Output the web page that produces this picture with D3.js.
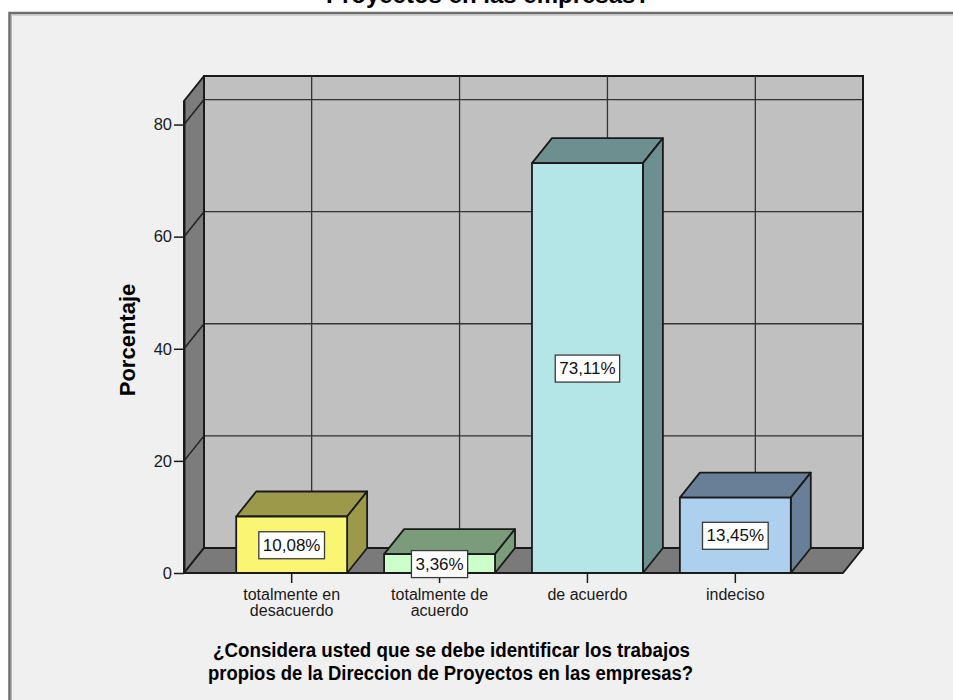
<!DOCTYPE html>
<html>
<head>
<meta charset="utf-8">
<script src="https://cdn.jsdelivr.net/npm/d3@7"></script>
<style>
  html, body { margin: 0; padding: 0; background: #ffffff; }
  svg { display: block; }
  text { font-family: "Liberation Sans", Arial, sans-serif; }
</style>
</head>
<body>
<svg id="chart" width="953" height="700"></svg>
<script>
// Survey responses (percentages)
const categories = ["totalmente en desacuerdo", "totalmente de acuerdo", "de acuerdo", "indeciso"];
const categoryLines = [["totalmente en", "desacuerdo"], ["totalmente de", "acuerdo"], ["de acuerdo"], ["indeciso"]];
const percentages = [10.08, 3.36, 73.11, 13.45];
const yTicks = [0, 20, 40, 60, 80];
const frontColors = ["#faf573", "#ccffcc", "#b4e6e8", "#acd0ee"];
const shadeColors = ["#9c9a4a", "#7a9c7a", "#6e8f8f", "#687f97"];

const chartTitle = "Proyectos en las empresas?";
const xTitleLines = ["¿Considera usted que se debe identificar los trabajos",
                     "propios de la Direccion de Proyectos en las empresas?"];
const yTitle = "Porcentaje";

const svg = d3.select("#chart");
const W = 953, H = 700;

// plot geometry (front plane) and 3D depth offset
const plotLeft = 184, plotRight = 843, plotBase = 573, plotTop = 101;
const dx = 20, dy = 25;

const x = d3.scaleBand().domain(categories).range([plotLeft, plotRight])
  .paddingInner(0.25).paddingOuter(0.353);
const y = d3.scaleLinear().domain([0, 84.2]).range([plotBase, plotTop]);

const locale = d3.formatLocale({decimal: ",", thousands: ".", grouping: [3], currency: ["", "€"]});
const fmt = locale.format(".2f");

// outer panel
svg.append("rect").attr("x", 0).attr("y", 0).attr("width", W).attr("height", H).attr("fill", "#ffffff");
svg.append("rect").attr("x", 9.5).attr("y", 13).attr("width", W + 20).attr("height", H + 20)
  .attr("fill", "#f0f0f0").attr("stroke", "#6e6e6e").attr("stroke-width", 2.5);
svg.append("rect").attr("x", 11.5).attr("y", 15).attr("width", W + 20).attr("height", H + 20)
  .attr("fill", "none").attr("stroke", "#b4b4b4").attr("stroke-width", 1);

// title (mostly above the visible area)
svg.append("text").attr("x", 488).attr("y", 3).attr("text-anchor", "middle")
  .attr("font-size", 24).attr("font-weight", "bold").attr("fill", "#000").text(chartTitle);

const yTopVal = y.domain()[1];

// back wall
svg.append("rect")
  .attr("x", plotLeft + dx).attr("y", y(yTopVal) - dy)
  .attr("width", plotRight - plotLeft).attr("height", plotBase - y(yTopVal))
  .attr("fill", "#c0c0c0").attr("stroke", "#1a1a1a").attr("stroke-width", 2);

// back-wall gridlines
const grid = svg.append("g").attr("stroke", "#333").attr("stroke-width", 1.3);
yTicks.filter(t => t > 0).forEach(t => {
  grid.append("line").attr("x1", plotLeft + dx).attr("x2", plotRight + dx)
    .attr("y1", y(t) - dy).attr("y2", y(t) - dy);
});
categories.forEach(c => {
  const cx = x(c) + x.bandwidth() / 2 + dx;
  grid.append("line").attr("x1", cx).attr("x2", cx)
    .attr("y1", y(yTopVal) - dy).attr("y2", plotBase - dy);
});

// left wall
svg.append("path")
  .attr("d", d3.line()([[plotLeft, y(yTopVal)], [plotLeft + dx, y(yTopVal) - dy], [plotLeft + dx, plotBase - dy], [plotLeft, plotBase]]) + "Z")
  .attr("fill", "#7c7c7c").attr("stroke", "#1a1a1a").attr("stroke-width", 2).attr("stroke-linejoin", "round");
yTicks.filter(t => t > 0).forEach(t => {
  svg.append("line").attr("x1", plotLeft).attr("y1", y(t)).attr("x2", plotLeft + dx).attr("y2", y(t) - dy)
    .attr("stroke", "#222").attr("stroke-width", 1.5);
});

// floor
svg.append("path")
  .attr("d", d3.line()([[plotLeft, plotBase], [plotLeft + dx, plotBase - dy], [plotRight + dx, plotBase - dy], [plotRight, plotBase]]) + "Z")
  .attr("fill", "#7a7a7a").attr("stroke", "#1a1a1a").attr("stroke-width", 2).attr("stroke-linejoin", "round");

// y axis
const yAxis = svg.append("g").attr("transform", `translate(${plotLeft},0)`)
  .call(d3.axisLeft(y).tickValues(yTicks).tickSize(10).tickSizeOuter(0).tickFormat(d3.format("d")));
yAxis.select(".domain").attr("stroke", "#1a1a1a").attr("stroke-width", 2);
yAxis.selectAll(".tick line").attr("stroke", "#1a1a1a").attr("stroke-width", 1.5);
yAxis.selectAll(".tick text").attr("font-size", 16.5).attr("fill", "#1a1a1a")
  .attr("font-family", "'Liberation Sans', Arial, sans-serif").attr("x", -12);

// x axis
const xAxis = svg.append("g").attr("transform", `translate(0,${plotBase})`)
  .call(d3.axisBottom(x).tickSize(10).tickSizeOuter(0));
xAxis.select(".domain").remove();
xAxis.selectAll(".tick line").attr("stroke", "#1a1a1a").attr("stroke-width", 1.5);
xAxis.selectAll(".tick text").each(function(d, i) {
  const t = d3.select(this).text(null).attr("font-size", 16).attr("fill", "#1a1a1a")
    .attr("font-family", "'Liberation Sans', Arial, sans-serif").attr("y", 0).attr("dy", null);
  categoryLines[i].forEach((ln, j) => {
    t.append("tspan").attr("x", 0).attr("y", 27 + j * 16).text(ln);
  });
});

// bars
const bars = svg.append("g");
categories.forEach((c, i) => {
  const v = percentages[i];
  const x0 = x(c), x1 = x(c) + x.bandwidth();
  const yT = y(v), yB = y(0);
  const g = bars.append("g").attr("stroke", "#1a1a1a").attr("stroke-width", 1.8).attr("stroke-linejoin", "round");
  // top face
  g.append("path").attr("d", d3.line()([[x0, yT], [x0 + dx, yT - dy], [x1 + dx, yT - dy], [x1, yT]]) + "Z")
    .attr("fill", shadeColors[i]);
  // side face
  g.append("path").attr("d", d3.line()([[x1, yT], [x1 + dx, yT - dy], [x1 + dx, yB - dy], [x1, yB]]) + "Z")
    .attr("fill", shadeColors[i]);
  // front face
  g.append("rect").attr("x", x0).attr("y", yT).attr("width", x.bandwidth()).attr("height", yB - yT)
    .attr("fill", frontColors[i]);
});

// value labels
const labels = svg.append("g");
categories.forEach((c, i) => {
  const v = percentages[i];
  const cx = x(c) + x.bandwidth() / 2;
  const cy = (y(v) + y(0)) / 2;
  const lg = labels.append("g");
  const r = lg.append("rect");
  const t = lg.append("text").attr("x", cx).attr("y", cy + 6).attr("text-anchor", "middle")
    .attr("font-size", 17).attr("fill", "#111").text(fmt(v) + "%");
  const w = t.node().getComputedTextLength();
  r.attr("x", cx - w / 2 - 4).attr("y", cy - 13).attr("width", w + 8).attr("height", 27)
    .attr("fill", "#ffffff").attr("stroke", "#3a3a3a").attr("stroke-width", 1.3);
});

// axis titles
svg.append("text").attr("transform", "translate(135,340) rotate(-90)").attr("text-anchor", "middle")
  .attr("font-size", 22).attr("font-weight", "bold").attr("fill", "#000").text(yTitle);

const xt = svg.append("g");
const xtCenters = [451.5, 450.5];
const xtWidths = [477, 485];
xTitleLines.forEach((ln, j) => {
  xt.append("text").attr("x", xtCenters[j]).attr("y", 657 + j * 23).attr("text-anchor", "middle")
    .attr("font-size", 20).attr("font-weight", "bold").attr("fill", "#000")
    .attr("textLength", xtWidths[j]).attr("lengthAdjust", "spacingAndGlyphs").text(ln);
});
</script>
</body>
</html>
